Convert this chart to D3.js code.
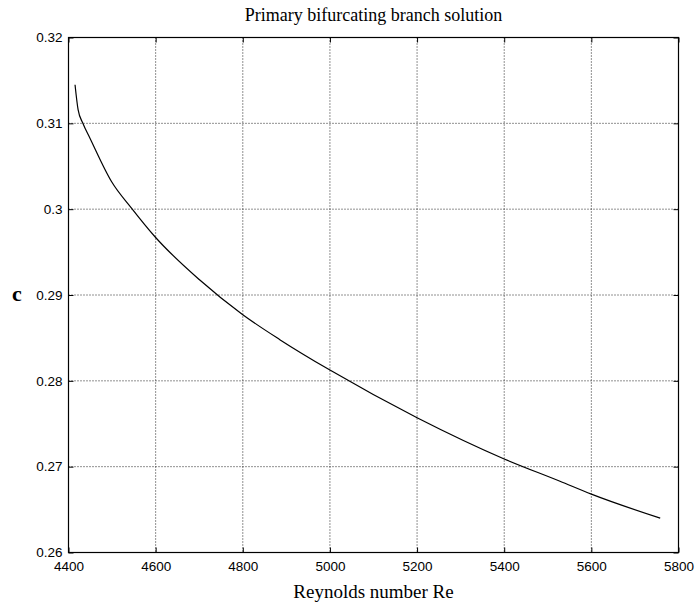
<!DOCTYPE html>
<html lang="en">
  <head>
    <meta charset="UTF-8" />
    <title>Primary bifurcating branch solution</title>
    <script src="https://d3js.org/d3.v7.min.js"></script>
    <style>
      body {
        margin: 0;
        padding: 0;
        background: white;
      }
      svg {
        display: block;
      }
      .tick-label {
        font-family: "Liberation Sans", Arial, sans-serif;
        font-size: 13.5px;
        fill: #000;
      }
      .serif {
        font-family: "Liberation Serif", "Times New Roman", serif;
        fill: #000;
      }
    </style>
  </head>
  <body>
    <svg width="695" height="605"></svg>
    <script>
      // data
      const reynolds = [4415, 4422, 4433, 4449, 4499, 4545, 4600, 4700, 4800,
                        4885, 5000, 5200, 5400, 5528, 5600, 5758];
      const cValues = [0.3145, 0.3116, 0.3100, 0.3083, 0.3032, 0.3001, 0.2967, 0.2918, 0.2877,
                       0.2848, 0.28125, 0.2757, 0.2709, 0.2683, 0.2668, 0.2640];
      const xTicks = [4400, 4600, 4800, 5000, 5200, 5400, 5600, 5800];
      const yTicks = [0.26, 0.27, 0.28, 0.29, 0.3, 0.31, 0.32];

      const margin = { top: 37.5, right: 16.5, bottom: 52.5, left: 68.5 };
      const width = 695 - margin.left - margin.right;
      const height = 605 - margin.top - margin.bottom;

      const svg = d3.select("svg");
      const g = svg.append("g")
        .attr("transform", `translate(${margin.left},${margin.top})`);

      const x = d3.scaleLinear().domain([4400, 5800]).range([0, width]);
      const y = d3.scaleLinear().domain([0.26, 0.32]).range([height, 0]);

      // dotted grid
      g.append("g")
        .selectAll("line")
        .data(xTicks.slice(1, -1))
        .join("line")
        .attr("x1", d => x(d)).attr("x2", d => x(d))
        .attr("y1", 0).attr("y2", height)
        .attr("stroke", "#222")
        .attr("stroke-width", 1)
        .attr("stroke-dasharray", "1,2");

      g.append("g")
        .selectAll("line")
        .data(yTicks.slice(1, -1))
        .join("line")
        .attr("x1", 0).attr("x2", width)
        .attr("y1", d => y(d)).attr("y2", d => y(d))
        .attr("stroke", "#222")
        .attr("stroke-width", 1)
        .attr("stroke-dasharray", "1,2");

      // axes with inward ticks (matlab style)
      const fmtY = d => (d === 0.3 ? "0.3" : d3.format(".2f")(d));

      g.append("g")
        .attr("transform", `translate(0,${height})`)
        .call(d3.axisBottom(x).tickValues(xTicks).tickSize(-5).tickPadding(9).tickFormat(d3.format("d")));
      g.append("g")
        .call(d3.axisLeft(y).tickValues(yTicks).tickSize(-5).tickPadding(6).tickFormat(fmtY));
      g.append("g")
        .call(d3.axisTop(x).tickValues(xTicks).tickSize(-5).tickFormat(""));
      g.append("g")
        .attr("transform", `translate(${width},0)`)
        .call(d3.axisRight(y).tickValues(yTicks).tickSize(-5).tickFormat(""));

      g.selectAll(".domain").remove();
      g.selectAll(".tick line").attr("stroke", "#000");
      g.selectAll(".tick text").attr("class", "tick-label").attr("font-family", null).attr("font-size", null);

      // box
      g.append("rect")
        .attr("width", width)
        .attr("height", height)
        .attr("fill", "none")
        .attr("stroke", "#000")
        .attr("stroke-width", 1.2);

      // curve
      const pts = reynolds.map((r, i) => [r, cValues[i]]);
      g.append("path")
        .datum(pts)
        .attr("fill", "none")
        .attr("stroke", "#000")
        .attr("stroke-width", 1.2)
        .attr("d", d3.line().curve(d3.curveMonotoneX).x(d => x(d[0])).y(d => y(d[1])));

      // labels
      svg.append("text")
        .attr("class", "serif")
        .attr("x", margin.left + width / 2)
        .attr("y", 21)
        .attr("text-anchor", "middle")
        .style("font-size", "18px")
        .text("Primary bifurcating branch solution");

      svg.append("text")
        .attr("class", "serif")
        .attr("x", margin.left + width / 2)
        .attr("y", 598)
        .attr("text-anchor", "middle")
        .style("font-size", "19px")
        .text("Reynolds number Re");

      svg.append("text")
        .attr("class", "serif")
        .attr("x", 17)
        .attr("y", 301)
        .attr("text-anchor", "middle")
        .style("font-size", "22px")
        .style("font-weight", "bold")
        .text("c");
    </script>
  </body>
</html>
